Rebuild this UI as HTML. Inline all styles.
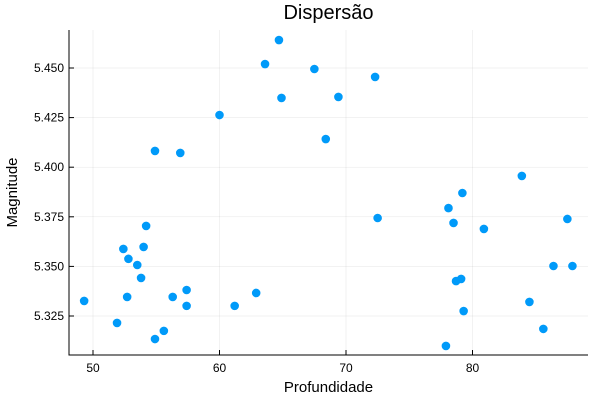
<!DOCTYPE html>
<html><head><meta charset="utf-8"><style>
body{margin:0;background:#fff}
svg{display:block;font-family:"Liberation Sans","DejaVu Sans",sans-serif}
</style></head><body>
<svg id="chart" width="600" height="400"></svg>
<script>
const depths=[64.7,63.6,67.5,72.3,64.9,69.4,60.0,68.4,54.9,56.9,83.9,79.2,78.1,72.5,87.5,78.5,54.2,80.9,54.0,52.4,52.8,53.5,86.4,87.9,53.8,79.1,78.7,62.9,57.4,52.7,56.3,49.3,84.5,57.4,61.2,79.3,51.9,55.6,85.6,54.9,77.9];
const magnitudes=[5.4641,5.452,5.4495,5.4455,5.4349,5.4354,5.4263,5.4142,5.4082,5.4072,5.3956,5.387,5.3794,5.3744,5.3739,5.3719,5.3704,5.3689,5.3598,5.3588,5.3538,5.3507,5.3502,5.3502,5.3442,5.3437,5.3426,5.3366,5.3381,5.3346,5.3346,5.3326,5.3321,5.3301,5.3301,5.3275,5.3215,5.3175,5.3185,5.3134,5.3099];
const xTicks=[50,60,70,80];
const yTicks=[5.325,5.350,5.375,5.400,5.425,5.450];
const NS="http://www.w3.org/2000/svg";
const svg=document.getElementById('chart');
const L=69,R=588,T=30,B=355;
const sx=v=>93+(v-50)*12.65;
const sy=v=>68+(5.45-v)*1984;
function el(t,a,p){const e=document.createElementNS(NS,t);for(const k in a)e.setAttribute(k,a[k]);(p||svg).appendChild(e);return e;}
const grid=el('g',{});


xTicks.forEach(v=>{
  const l=el('line',{x1:sx(v),x2:sx(v),y1:T,y2:B,stroke:'#000','stroke-opacity':0.1,'stroke-width':0.5},grid);
  
  
  const t=el('text',{x:sx(v),y:B+17,'text-anchor':'middle','font-size':12,fill:'#000'});
  t.textContent=v;
  
  
  el('line',{x1:sx(v),x2:sx(v),y1:B,y2:B-5,stroke:'#000','stroke-width':1});
});
yTicks.forEach(v=>{
  const l=el('line',{x1:L,x2:R,y1:sy(v),y2:sy(v),stroke:'#000','stroke-opacity':0.1,'stroke-width':0.5},grid);
  
  
  const t=el('text',{x:L-5,y:sy(v)+4,'text-anchor':'end','font-size':12,fill:'#000'});
  t.textContent=v.toFixed(3);
  
  
  el('line',{x1:L,x2:L+5,y1:sy(v),y2:sy(v),stroke:'#000','stroke-width':1});
});
const ax=el('path',{d:`M${L},${T}V${B}H${R}`,fill:'none',stroke:'#000','stroke-width':1});


depths.forEach((d,i)=>{
  const c=el('circle',{cx:sx(d),cy:sy(magnitudes[i]),r:4.3,fill:'#009af9'});
  
  
});
const title=el('text',{x:(L+R)/2,y:19,'text-anchor':'middle','font-size':20,fill:'#000'});
title.textContent='Dispersão';


const xt=el('text',{x:(L+R)/2,y:392,'text-anchor':'middle','font-size':15,fill:'#000'});
xt.textContent='Profundidade';


const yt=el('text',{x:0,y:0,'text-anchor':'middle','font-size':15,fill:'#000',transform:`translate(17,${(T+B)/2}) rotate(-90)`});
yt.textContent='Magnitude';


</script>
</body></html>
